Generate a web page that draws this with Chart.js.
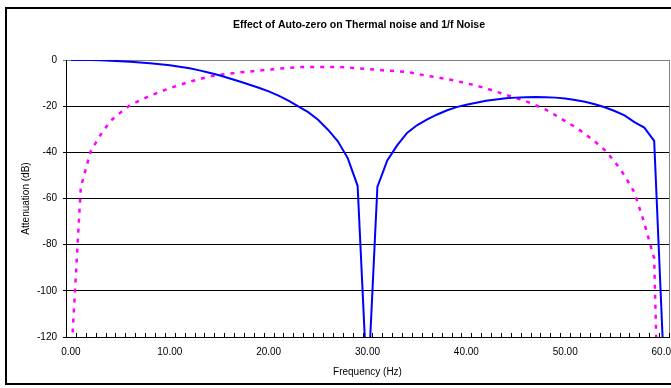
<!DOCTYPE html>
<html><head><meta charset="utf-8">
<script src="https://cdn.jsdelivr.net/npm/chart.js@4.4.1/dist/chart.umd.min.js"></script>
<style>
html,body{margin:0;padding:0;background:#fff;overflow:hidden;width:671px;height:388px;}
#wrap{position:absolute;left:0;top:0;width:720px;height:388px;}
#frame{position:absolute;left:5px;top:7px;width:800px;height:378px;border:2px solid #000;box-sizing:border-box;pointer-events:none;}
canvas{position:absolute;left:0;top:0;}
</style></head><body>
<div id="wrap"><canvas id="c" width="720" height="388"></canvas><div id="frame"></div></div>
<script>
const chartTitle = 'Effect of Auto-zero on Thermal noise and 1/f Noise';
const xTitle = 'Frequency (Hz)';
const yTitle = 'Attenuation (dB)';
const yTickValues = [0, -20, -40, -60, -80, -100, -120];

// Frequency categories (Hz)
const freqHz = [0,1,2,3,4,5,6,7,8,9,10,11,12,13,14,15,16,17,18,19,20,21,22,23,24,25,26,27,28,29,30,
                31,32,33,34,35,36,37,38,39,40,41,42,43,44,45,46,47,48,49,50,51,52,53,54,55,56,57,58,59,60];

// Thermal noise (blue, solid), dB
const thermalDb = [0,0,0,-0.1,-0.3,-0.5,-0.8,-1.1,-1.4,-1.8,-2.3,-2.9,-3.6,-4.5,-5.5,-6.6,-7.9,-9.2,-10.6,-12.0,-13.6,-15.4,-17.6,-20.1,-22.6,-25.9,-30.2,-35.2,-42.5,-54.5,-145,
                   -55,-43.5,-37,-31.6,-28.3,-25.8,-23.7,-21.9,-20.4,-19.4,-18.5,-17.7,-17.1,-16.6,-16.3,-16.1,-16.0,-16.1,-16.3,-16.7,-17.3,-18.1,-19.2,-20.5,-22.1,-24.0,-26.9,-29.3,-35.0,-135];

// 1/f noise (magenta, dashed), dB
const flickerDb = [-131,-55,-39.5,-32.4,-26.4,-22.8,-19.5,-17.5,-15.5,-13.8,-12.2,-10.8,-9.4,-8.3,-7.2,-6.4,-5.9,-5.4,-5.0,-4.6,-4.2,-3.8,-3.4,-3.1,-3.0,-3.0,-3.0,-3.0,-3.3,-3.6,-3.9,
                   -4.3,-4.6,-4.9,-5.1,-6.0,-6.8,-7.5,-8.2,-9.1,-10.1,-11.1,-12.3,-13.7,-15.1,-16.5,-17.8,-19.6,-21.4,-23.9,-26.5,-29,-32,-35.3,-39,-44,-50,-57.4,-70.6,-86,-250];

const FONT = "'Liberation Sans', Arial, sans-serif";

const frameAndTicks = {
  id: 'frameAndTicks',
  afterDatasetsDraw(chart) {
    const {ctx, chartArea: a, scales: {x}} = chart;
    ctx.save();
    ctx.strokeStyle = '#808080';
    ctx.lineWidth = 1;
    ctx.beginPath();
    ctx.moveTo(Math.round(a.right) + 0.5, a.top);
    ctx.lineTo(Math.round(a.right) + 0.5, a.bottom);
    ctx.stroke();
    // minor tick marks between categories, pointing into the plot
    ctx.strokeStyle = '#000';
    ctx.beginPath();
    const n = x.ticks.length;
    for (let i = 0; i <= n; i++) {
      const px = Math.round(x.left + i * x.width / n) + 0.5;
      ctx.moveTo(px, a.bottom);
      ctx.lineTo(px, a.bottom - 4);
    }
    ctx.stroke();
    // chart title (centred on the whole chart object, which extends past the window)
    ctx.fillStyle = '#000';
    ctx.font = 'bold 10.5px ' + FONT;
    ctx.textAlign = 'center';
    ctx.textBaseline = 'middle';
    ctx.fillText(chartTitle, 359, 25);
    ctx.restore();
  }
};

new Chart(document.getElementById('c'), {
  type: 'line',
  data: {
    labels: freqHz,
    datasets: [
      {label: 'Thermal noise', data: thermalDb,
       borderColor: '#0000FF', borderWidth: 2, pointRadius: 0, tension: 0, fill: false},
      {label: '1/f noise', data: flickerDb,
       borderColor: '#FF00FF', borderWidth: 2.5, borderDash: [4, 6], pointRadius: 0, tension: 0, fill: false}
    ]
  },
  options: {
    responsive: false,
    animation: false,
    devicePixelRatio: 1,
    layout: {padding: {left: 6, right: 51, top: 60, bottom: 0}},
    plugins: {
      legend: {display: false},
      tooltip: {enabled: false},
      title: {display: false}
    },
    scales: {
      x: {
        type: 'category', offset: true,
        afterFit: s => { s.height = 51; },
        ticks: {autoSkip: false, maxRotation: 0, padding: 9, color: '#000',
                font: {family: FONT, size: 10},
                callback: function (v, i) { return i % 10 === 0 ? Number(freqHz[i]).toFixed(2) : ''; }},
        grid: {drawOnChartArea: false, drawTicks: false, offset: true},
        border: {color: '#000', width: 1},
        title: {display: true, text: xTitle, color: '#000', font: {family: FONT, size: 10},
                padding: {top: 0, bottom: 10}}
      },
      y: {
        min: -120, max: 0,
        afterFit: s => { s.width = 60; },
        afterBuildTicks: s => { s.ticks = yTickValues.map(v => ({value: v})); },
        ticks: {padding: 6, color: '#000', font: {family: FONT, size: 10}},
        grid: {color: c => (c.tick && c.tick.value === 0) ? '#808080' : '#000', lineWidth: 1,
               drawTicks: true, tickLength: 3},
        border: {color: '#000', width: 1},
        title: {display: true, text: yTitle, color: '#000', font: {family: FONT, size: 10},
                padding: {top: 14, bottom: 0}}
      }
    }
  },
  plugins: [frameAndTicks]
});
</script>
</body></html>
